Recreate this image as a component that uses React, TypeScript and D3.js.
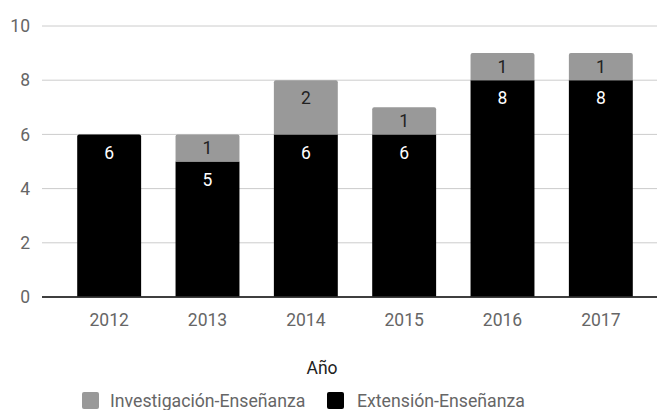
import React from "react"
import * as d3 from "d3"

const years = ["2012", "2013", "2014", "2015", "2016", "2017"]
const extension = [6, 5, 6, 6, 8, 8]
const investigacion = [0, 1, 2, 1, 1, 1]
const yTicks = [0, 2, 4, 6, 8, 10]
const seriesNames = ["Investigación-Enseñanza", "Extensión-Enseñanza"]

const width = 657
const height = 410
const font = "Roboto, 'Noto Sans', sans-serif"

const App = () => {
    const x = d3.scaleBand().domain(years).range([60, 650]).paddingInner(0.35).paddingOuter(0.175)
    const y = d3.scaleLinear().domain([0, 10]).range([297, 26])

    const rows = years.map((yr, i) => ({year: yr, ext: extension[i], inv: investigacion[i]}))
    const stack = d3.stack<any>().keys(["ext", "inv"])(rows)
    const colors: Record<string, string> = {ext: "#000000", inv: "#999999"}
    const textColors: Record<string, string> = {ext: "#ffffff", inv: "#222222"}

    return (
        <svg width={width} height={height} style={{display: "block", position: "absolute", left: 0, top: 0}}>
            {yTicks.map(t => (
                <g key={t}>
                    <line x1={42} x2={657} y1={y(t)} y2={y(t)} stroke={t === 0 ? "#333333" : "#cccccc"} strokeWidth={t === 0 ? 1.5 : 1}/>
                    <text x={30} y={y(t)} dy="0.35em" textAnchor="end" fontFamily={font} fontSize={17.5} fill="#666666">{t}</text>
                </g>
            ))}
            {stack.map(s => s.map((d, i) => {
                const v = d[1] - d[0]
                if (v <= 0) return null
                const top = y(d[1])
                const bot = y(d[0])
                const bx = x(years[i])!
                const isTop = s.key === "inv" || investigacion[i] === 0
                const cy = Math.min(top + 18, (top + bot) / 2)
                return (
                    <g key={s.key + i}>
                        {isTop ? (
                            <path
                                d={`M${bx},${bot} V${top + 2} Q${bx},${top} ${bx + 2},${top} H${bx + x.bandwidth() - 2} Q${bx + x.bandwidth()},${top} ${bx + x.bandwidth()},${top + 2} V${bot} Z`}
                                fill={colors[s.key]}/>
                        ) : (
                            <rect x={bx} y={top} width={x.bandwidth()} height={bot - top} fill={colors[s.key]}/>
                        )}
                        <text x={bx + x.bandwidth() / 2} y={cy} dy="0.35em" textAnchor="middle"
                              fontFamily={font} fontSize={17.5} fill={textColors[s.key]}>{v}</text>
                    </g>
                )
            }))}
            <line x1={42} x2={657} y1={y(0)} y2={y(0)} stroke="#333333" strokeWidth={1.5}/>
            {years.map(yr => (
                <text key={yr} x={x(yr)! + x.bandwidth() / 2} y={320} dy="0.35em" textAnchor="middle"
                      fontFamily={font} fontSize={17.5} fill="#666666">{yr}</text>
            ))}
            <text x={322} y={368} dy="0.35em" textAnchor="middle" fontFamily={font} fontSize={17.5} fill="#222222">Año</text>
            <rect x={82} y={392} width={17} height={17} rx={2} fill="#999999"/>
            <text x={110} y={401} dy="0.35em" fontFamily={font} fontSize={17.7} fill="#666666">{seriesNames[0]}</text>
            <rect x={327} y={392} width={17} height={17} rx={2} fill="#000000"/>
            <text x={357} y={401} dy="0.35em" fontFamily={font} fontSize={17.7} fill="#666666">{seriesNames[1]}</text>
        </svg>
    )
}

export default App
